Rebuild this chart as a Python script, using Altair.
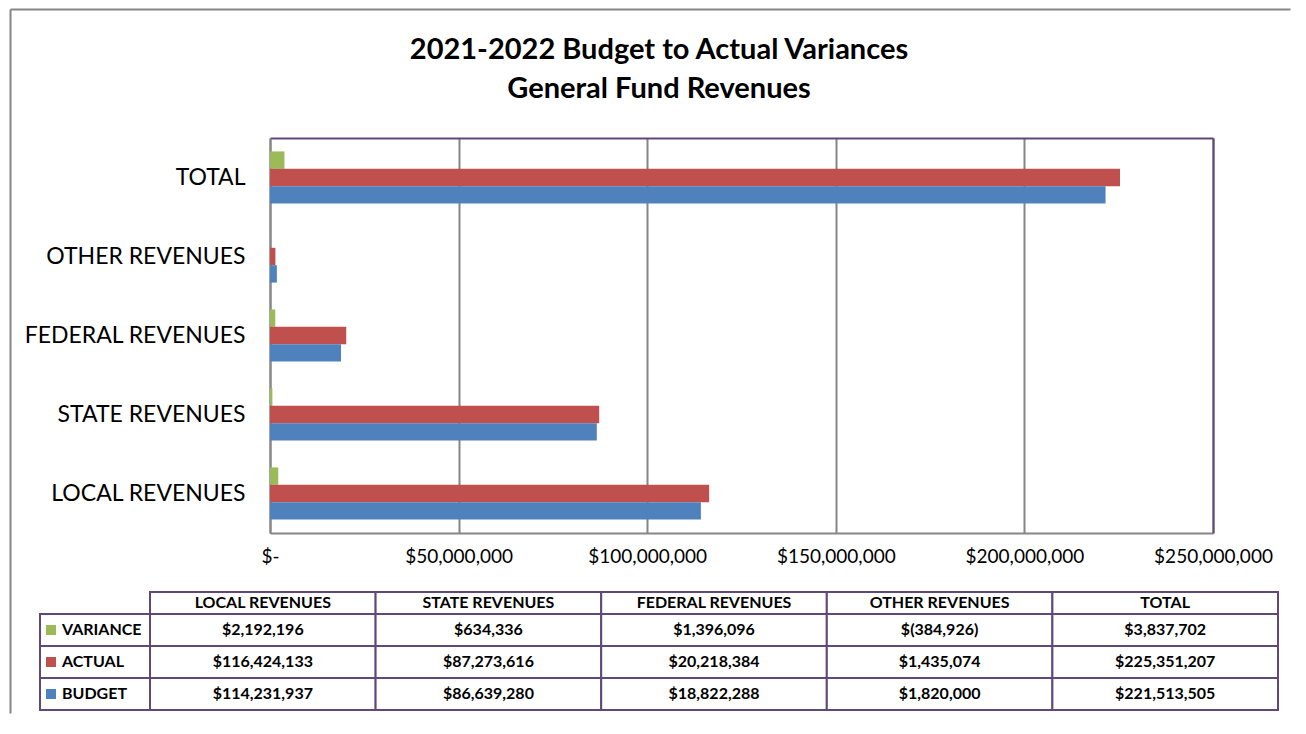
import altair as alt
import pandas as pd

categories = ["LOCAL REVENUES", "STATE REVENUES", "FEDERAL REVENUES", "OTHER REVENUES", "TOTAL"]
series = ["VARIANCE", "ACTUAL", "BUDGET"]
variance = [2192196, 634336, 1396096, -384926, 3837702]
actual = [116424133, 87273616, 20218384, 1435074, 225351207]
budget = [114231937, 86639280, 18822288, 1820000, 221513505]
colors = ["#9bbb59", "#c0504d", "#4f81bd"]
x_ticks = [0, 50000000, 100000000, 150000000, 200000000, 250000000]
title_lines = ["2021-2022 Budget to Actual Variances", "General Fund Revenues"]


def money(v):
    return f"$({abs(v):,})" if v < 0 else f"${v:,}"


rows = []
for s, vals in zip(series, [variance, actual, budget]):
    for c, v in zip(categories, vals):
        rows.append({"category": c, "series": s, "value": v, "label": money(v)})
df = pd.DataFrame(rows)

FONT = "Lato"
PURPLE = "#5f497a"
GRID = "#868686"
TFS = 16

# layout (pixels)
LEFT = 230          # gap from table's left edge to plot's left edge
PLOT_W = 943
PLOT_H = 395
KEY_W = 110
TABLE_W = 1238
HEAD_H = 22
ROW_H = 32
FRAME_L = 30        # chart-area border, left of table edge
FRAME_T = 129       # chart-area border, above plot top
FRAME_W = 1280
FRAME_H = 704

color_scale = alt.Scale(domain=series, range=colors)
band0 = alt.Scale(paddingInner=0, paddingOuter=0)
xs = alt.Scale(domain=[0, 250000000], nice=False, clamp=True, range=[LEFT, LEFT + PLOT_W])
ys = alt.Scale(paddingInner=0.34, paddingOuter=0.17)


def line_axis(orient, color, offset=0, position=0):
    return alt.Axis(orient=orient, offset=offset, position=position, labels=False, ticks=False,
                    grid=False, title=None, domainColor=color, domainWidth=2,
                    minExtent=0, maxExtent=0)


bars = alt.Chart(df).mark_bar().encode(
    x=alt.X("value:Q", scale=xs,
            axis=alt.Axis(values=x_ticks,
                          labelExpr="datum.value == 0 ? '$-' : '$' + format(datum.value, ',')",
                          title=None, ticks=False, grid=True, gridColor=GRID, gridWidth=2,
                          domainColor=GRID, domainWidth=2, labelFontSize=19, labelFont=FONT,
                          labelColor="black", labelPadding=14, labelFlush=False)),
    y=alt.Y("category:N", sort=categories[::-1], scale=ys,
            axis=alt.Axis(title=None, ticks=False, domainColor=GRID, domainWidth=2,
                          labelFontSize=23, labelFont=FONT, labelColor="black",
                          labelPadding=25, labelLimit=400, grid=False, offset=-LEFT)),
    yOffset=alt.YOffset("series:N", sort=series, scale=band0),
    color=alt.Color("series:N", scale=color_scale, legend=None),
)

plot_border = alt.Chart(df).mark_point(opacity=0).encode(
    x=alt.X("value:Q", scale=xs, axis=line_axis("top", PURPLE)),
    y=alt.Y("category:N", sort=categories[::-1], scale=ys, axis=line_axis("right", PURPLE)),
)

area_border = alt.Chart(pd.DataFrame({"f": [0]})).mark_point(opacity=0).encode(
    x=alt.X("f:Q", scale=alt.Scale(domain=[0, 1], range=[0, FRAME_W]),
            axis=line_axis("top", GRID, FRAME_T, -FRAME_L)),
    y=alt.Y("f:Q", scale=alt.Scale(domain=[0, 1], range=[0, FRAME_H]),
            axis=line_axis("left", GRID, FRAME_L, -FRAME_T)),
)

bar_chart = alt.layer(area_border, plot_border, bars).resolve_scale(
    x="independent", y="independent").resolve_axis(x="independent", y="independent").properties(
    width=LEFT + PLOT_W, height=PLOT_H)

# ---- data table ----
val_x = alt.Scale(paddingInner=0, paddingOuter=0, range=[KEY_W, TABLE_W])
key_x = alt.Scale(paddingInner=0, paddingOuter=0, range=[0, KEY_W])
row_y = alt.Scale(paddingInner=0, paddingOuter=0, range=[HEAD_H, HEAD_H + 3 * ROW_H])
head_y = alt.Scale(paddingInner=0, paddingOuter=0, range=[0, HEAD_H])

head_df = pd.DataFrame({"category": categories, "row": ["head"] * len(categories)})
key_df = pd.DataFrame({"series": series, "col": ["key"] * len(series)})

header = alt.Chart(head_df).encode(
    x=alt.X("category:N", sort=categories, axis=None, scale=val_x),
    y=alt.Y("row:N", axis=None, scale=head_y))
head_cells = header.mark_rect(fill="white", stroke=PURPLE, strokeWidth=2)
head_text = header.mark_text(font=FONT, fontWeight="bold", fontSize=TFS, color="black").encode(
    text="category:N")

body = alt.Chart(df).encode(
    x=alt.X("category:N", sort=categories, axis=None, scale=val_x),
    y=alt.Y("series:N", sort=series, axis=None, scale=row_y))
body_cells = body.mark_rect(fill="white", stroke=PURPLE, strokeWidth=2)
body_text = body.mark_text(font=FONT, fontWeight="bold", fontSize=TFS, color="black").encode(
    text="label:N")

key = alt.Chart(key_df).encode(y=alt.Y("series:N", sort=series, axis=None, scale=row_y))
key_cells = key.mark_rect(fill="white", stroke=PURPLE, strokeWidth=2).encode(
    x=alt.X("col:N", axis=None, scale=key_x))
key_sw = key.mark_square(size=100, opacity=1).encode(
    x=alt.value(11), color=alt.Color("series:N", scale=color_scale, legend=None))
key_text = key.mark_text(align="left", font=FONT, fontWeight="bold", fontSize=TFS,
                         color="black").encode(x=alt.value(22), text="series:N")

table = alt.layer(head_cells, head_text, body_cells, body_text, key_cells, key_sw, key_text
                  ).resolve_scale(x="independent", y="independent", color="independent"
                  ).properties(width=TABLE_W, height=HEAD_H + 3 * ROW_H)

chart = alt.vconcat(bar_chart, table, spacing=59, bounds="flush").properties(
    title=alt.TitleParams(title_lines, font=FONT, fontSize=29, fontWeight="bold",
                          color="black", anchor="middle", lineHeight=39, offset=-95, dx=9),
    padding={"left": 1, "top": 0, "right": 0, "bottom": 0},
).configure_view(stroke="transparent")

chart.save("out.html", embed_options={"renderer": "svg", "actions": False})
